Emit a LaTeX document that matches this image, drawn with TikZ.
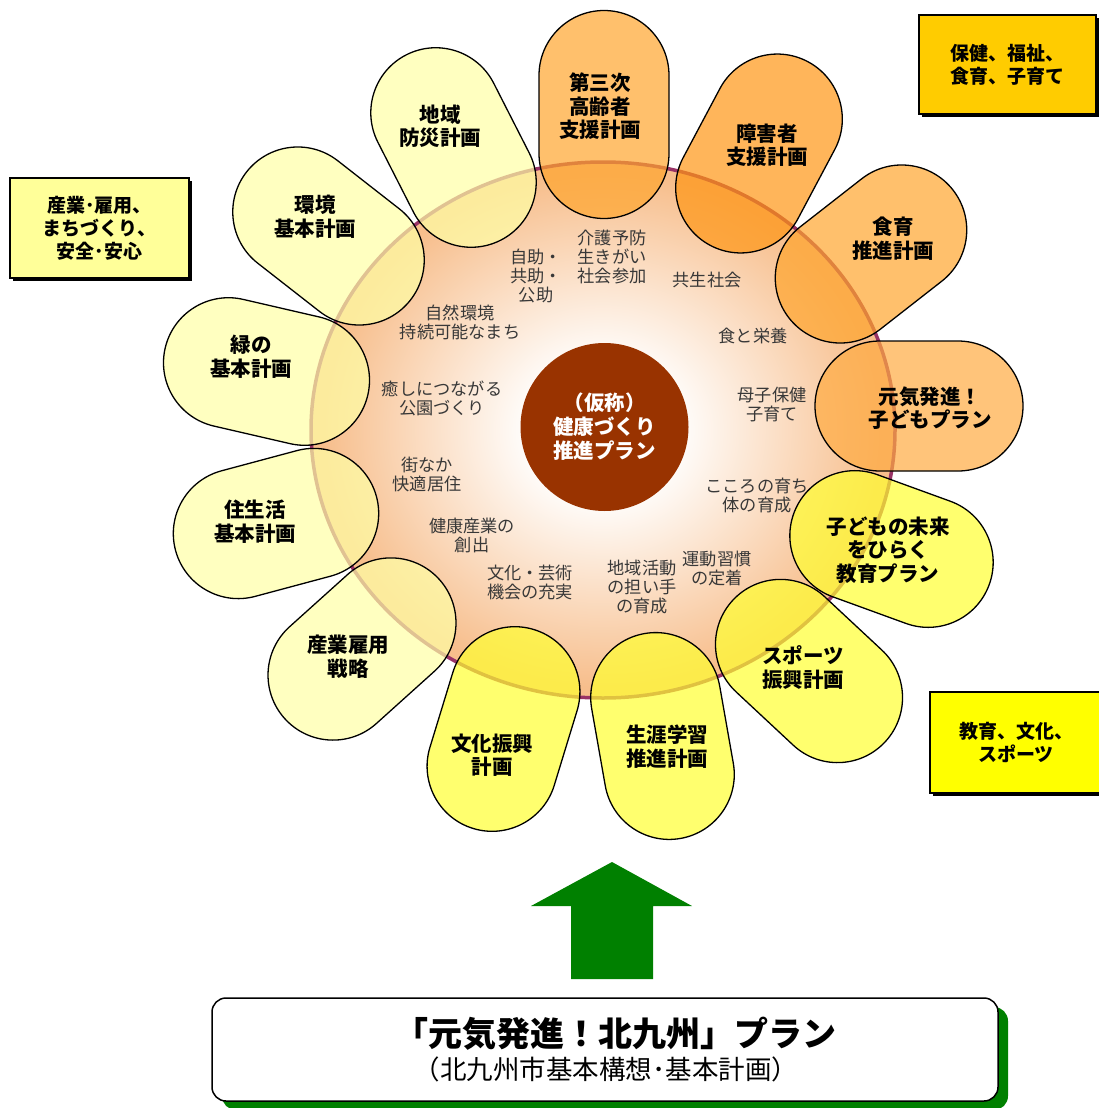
\documentclass[tikz,border=0pt]{standalone}
\usepackage{fontspec}
\newfontfamily\jp{Noto Sans CJK JP}
\definecolor{ringpurple}{RGB}{153,51,102}
\definecolor{peach}{RGB}{247,190,140}
\definecolor{lyel}{RGB}{255,255,165}
\definecolor{orngA}{RGB}{255,165,45}
\definecolor{orngB}{RGB}{255,150,20}
\definecolor{orngC}{RGB}{255,171,65}
\definecolor{yel}{RGB}{255,255,48}
\definecolor{brownc}{RGB}{153,51,0}
\definecolor{goldc}{RGB}{255,204,0}
\definecolor{paleyel}{RGB}{255,255,153}
\definecolor{puryel}{RGB}{255,255,0}
\definecolor{greenc}{RGB}{0,128,0}
\pgfdeclareradialshading{ringshade}{\pgfpoint{0bp}{0bp}}{color(0bp)=(white); color(6bp)=(white); color(24bp)=(peach); color(50bp)=(peach)}
\tikzset{
  petalshape/.style={draw=black, line width=1.3pt, fill opacity=0.7},
  petaltxt/.style={font=\jp\bfseries\fontsize{20.5}{23.5}\selectfont, align=center, inner sep=0pt, text=black},
  innertxt/.style={font=\jp\fontsize{17.2}{19}\selectfont, align=center, inner sep=0pt, text=black!78},
  cornerbox/.style={draw=black, line width=2pt, font=\jp\bfseries\fontsize{19}{23}\selectfont, align=center, inner sep=0pt},
}
\newcommand\petal[4]{\begin{scope}[shift={(#1,#2)},rotate=#3]
\draw[petalshape, fill=#4] (-39pt,-65pt) -- (39pt,-65pt) arc[start angle=-90,end angle=90,radius=65pt] -- (-39pt,65pt) arc[start angle=90,end angle=270,radius=65pt] -- cycle;
\end{scope}}
\begin{document}
\begin{tikzpicture}[x=1pt,y=-1pt]
\useasboundingbox (0,0) rectangle (1098,1108);
% ring
\shade[shading=ringshade] (603,430) ellipse[x radius=292pt, y radius=268pt];
\draw[ringpurple, line width=3.5pt] (603,430) ellipse[x radius=292pt, y radius=268pt];
% petals
\petal{453.5}{147.5}{117}{lyel}
\petal{604}{114.5}{90}{orngA}
\petal{759}{153.5}{62}{orngB}
\petal{871}{254}{38}{orngA}
\petal{919}{406}{0}{orngC}
\petal{891.5}{549}{-20}{yel}
\petal{809}{671}{-43}{yel}
\petal{662.5}{736}{-80}{yel}
\petal{503.5}{729}{-107}{yel}
\petal{362}{649}{-138}{lyel}
\petal{276}{523.5}{-165}{lyel}
\petal{266.5}{371.5}{167}{lyel}
\petal{328.5}{236}{142}{lyel}
% petal labels
\node[petaltxt] (p1) at (440,126.5) {地域\\防災計画};
\node[petaltxt] (p2) at (600,106.5) {第三次\\高齢者\\支援計画};
\node[petaltxt] (p3) at (767,145) {障害者\\支援計画};
\node[petaltxt] (p4) at (893,238.5) {食育\\推進計画};
\node[petaltxt] (p5) at (930,408) {元気発進！\\子どもプラン};
\node[petaltxt] (p6) at (888,550) {子どもの未来\\をひらく\\教育プラン};
\node[petaltxt] (p7) at (803,667.5) {スポーツ\\振興計画};
\node[petaltxt] (p8) at (667,746.5) {生涯学習\\推進計画};
\node[petaltxt] (p9) at (492,755) {文化振興\\計画};
\node[petaltxt] (p10) at (348,656.5) {産業雇用\\戦略};
\node[petaltxt] (p11) at (255,521.5) {住生活\\基本計画};
\node[petaltxt] (p12) at (251,356.5) {緑の\\基本計画};
\node[petaltxt] (p13) at (315,216.5) {環境\\基本計画};
% inner texts
\node[innertxt] (t1) at (612,257) {介護予防\\生きがい\\社会参加};
\node[innertxt] (t2) at (536,276) {自助・\\共助・\\公助};
\node[innertxt] (t3) at (707,280) {共生社会};
\node[innertxt] (t4) at (460,322.5) {自然環境\\持続可能なまち};
\node[innertxt] (t5) at (753,336) {食と栄養};
\node[innertxt] (t6) at (442,398) {癒しにつながる\\公園づくり};
\node[innertxt] (t7) at (772,404.5) {母子保健\\子育て};
\node[innertxt] (t8) at (427,474.5) {街なか\\快適居住};
\node[innertxt] (t9) at (757,495.5) {こころの育ち\\体の育成};
\node[innertxt] (t10) at (472,535) {健康産業の\\創出};
\node[innertxt] (t11) at (530,582.5) {文化・芸術\\機会の充実};
\node[innertxt] (t12) at (642,587) {地域活動\\の担い手\\の育成};
\node[innertxt] (t13) at (717,568) {運動習慣\\の定着};
% core
\node[circle, fill=brownc, minimum size=168pt, inner sep=0pt] (core) at (604.5,427) {};
\node[font=\jp\bfseries\fontsize{20.5}{24}\selectfont, align=center, text=white, inner sep=0pt] (coretxt) at (core) {（仮称）\\健康づくり\\推進プラン};
% corner boxes
\fill[black] (922,18) rectangle (1099,117);
\node[cornerbox, fill=goldc, minimum width=177pt, minimum height=99pt] (hoken) at (1007.5,64.5) {保健、福祉、\\食育、子育て};
\fill[black] (13,181) rectangle (192,281);
\node[cornerbox, fill=paleyel, minimum width=179pt, minimum height=100pt] (sangyo) at (99.5,228) {産業･雇用、\\まちづくり、\\安全･安心};
\fill[black] (933,695) rectangle (1105,796);
\node[cornerbox, fill=puryel, minimum width=172pt, minimum height=101pt] (kyoiku) at (1016,742.5) {教育、文化、\\スポーツ};
% green arrow
\coordinate (atip) at (612,862);
\fill[greenc] (atip) -- (692,906) -- (653,906) -- (653,979) -- (571,979) -- (571,906) -- (531,906) -- cycle;
% bottom plan box
\fill[greenc, rounded corners=14pt] (222,1007) rectangle (1008,1110);
\node[draw=black, line width=1.5pt, fill=white, rounded corners=14pt, minimum width=786pt, minimum height=103pt, inner sep=0pt] (plan) at (605,1049.5) {};
\node[font=\jp\bfseries\fontsize{34}{38}\selectfont, inner sep=0pt] (title) at (615,1034) {「元気発進！北九州」プラン};
\node[font=\jp\fontsize{26.5}{30}\selectfont, inner sep=0pt] (sub) at (606,1069) {（北九州市基本構想･基本計画）};
\end{tikzpicture}
\end{document}
